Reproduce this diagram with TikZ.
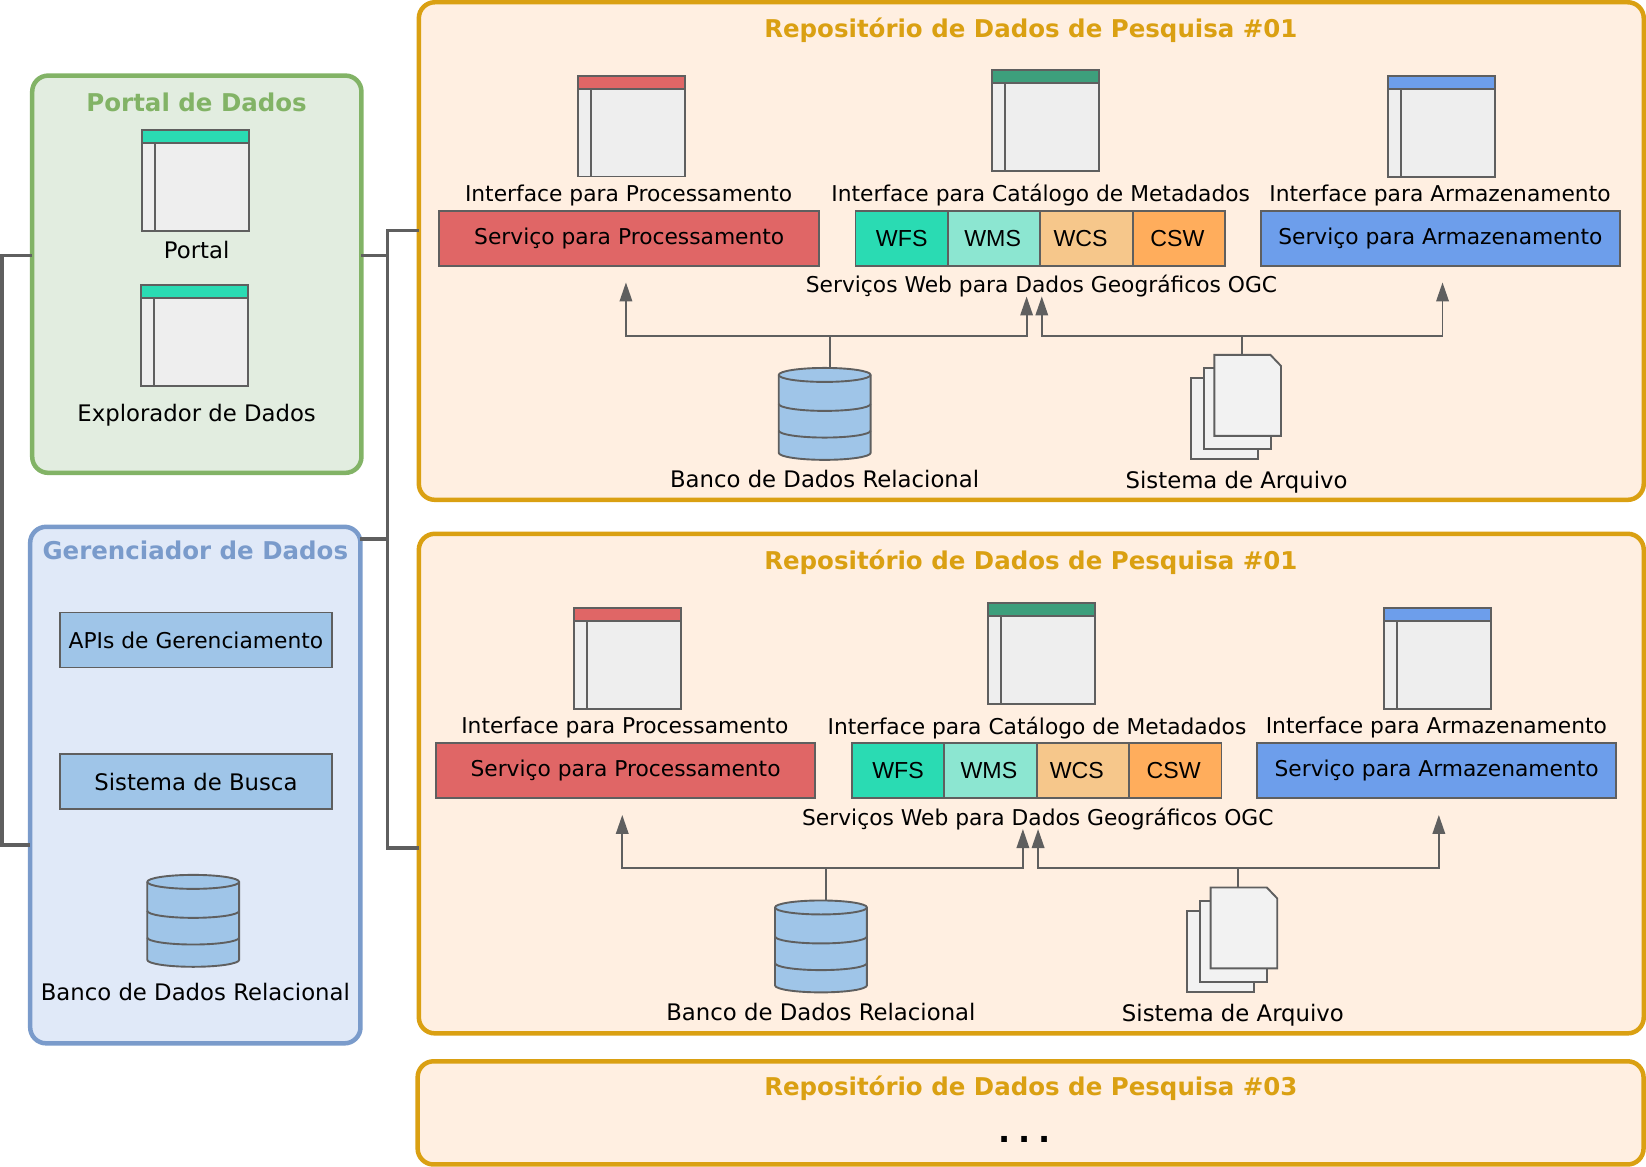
\documentclass[tikz,border=0pt]{standalone}
\usepackage{fontspec}
\setmainfont{DejaVu Sans}
\newfontfamily\wsfont{Liberation Sans}
\usetikzlibrary{shapes.geometric, arrows.meta, positioning, calc}

\definecolor{linegray}{HTML}{5F5F5F}
\definecolor{winfill}{HTML}{EEEEEE}
\definecolor{pagefill}{HTML}{F2F2F2}
\definecolor{dbfill}{HTML}{9FC5E8}
\definecolor{redfill}{HTML}{E06666}
\definecolor{tealdark}{HTML}{3D9F7C}
\definecolor{tealfill}{HTML}{2ADBB3}
\definecolor{tealsoft}{HTML}{8CE6D1}
\definecolor{sandfill}{HTML}{F6C78B}
\definecolor{orangefill}{HTML}{FFAD5C}
\definecolor{bluefill}{HTML}{6D9EEB}
\definecolor{greenbox}{HTML}{E2EDE0}
\definecolor{greenline}{HTML}{82B366}
\definecolor{bluebox}{HTML}{E0E9F8}
\definecolor{blueline}{HTML}{7A9BCB}
\definecolor{repobox}{HTML}{FFEFE1}
\definecolor{repoline}{HTML}{DAA012}

% cilindro sobre um no vazio
\newcommand{\dbdrum}[1]{
    \draw[stub, fill=dbfill] ([yshift=-7pt]#1.north west) arc[start angle=180, end angle=0, x radius=46pt, y radius=7pt]
        -- ([yshift=7pt]#1.south east) arc[start angle=0, end angle=-180, x radius=46pt, y radius=7pt] -- cycle;
    \foreach \s in {7, 36, 62.7} {
        \draw[stub] ([yshift=-\s pt]#1.north west) arc[start angle=180, end angle=360, x radius=46pt, y radius=7pt];
    }
}

\begin{document}
\begin{tikzpicture}[
    x=1pt, y=-1pt,
    every node/.style={outer sep=0pt},
    group/.style={rectangle, rounded corners=16pt, line width=4.5pt, minimum width=#1, inner sep=0pt},
    grouptitle/.style={font=\fontsize{24.5}{28}\selectfont\bfseries},
    label/.style={font=\fontsize{21.8}{26}\selectfont},
    labelwide/.style={font=\fontsize{22.8}{27}\selectfont},
    svc/.style={rectangle, draw=linegray, line width=1.9pt, inner sep=0pt, minimum height=55pt, font=\fontsize{21.8}{26}\selectfont},
    ogc/.style={svc, minimum width=92.5pt, font=\wsfont\fontsize{23.2}{28}\selectfont},
    winbody/.style={rectangle, draw=linegray, line width=1.9pt, fill=winfill, minimum width=107pt, minimum height=101pt, inner sep=0pt},
    winbar/.style={rectangle, draw=linegray, line width=1.9pt, minimum width=107pt, minimum height=13pt, inner sep=0pt},
    dbnode/.style={rectangle, minimum width=92pt, minimum height=92pt, inner sep=0pt},
    sheet/.style={rectangle, draw=linegray, line width=1.9pt, fill=pagefill, minimum width=67pt, minimum height=81pt, inner sep=0pt},
    flow/.style={draw=linegray, line width=1.9pt, -{Triangle[length=19pt,width=12.5pt]}},
    stub/.style={draw=linegray, line width=1.9pt},
    link/.style={draw=linegray, line width=3.6pt}
]

% Portal de Dados
\node[group=329.5pt, draw=greenline, fill=greenbox, minimum height=397.6pt] (portalbox) at (196.2, 273.2) {};
\node[grouptitle, text=greenline] (portaltitle) at (196, 101) {Portal de Dados};
\node[winbody] (portalwin) at (195.2, 179.8) {};
\node[winbar, fill=tealfill, below=0pt of portalwin.north] (portalbar) {};
\draw[stub] ([xshift=13pt]portalbar.south west) -- ([xshift=13pt]portalwin.south west);
\node[labelwide] (portallabel) at (196, 249) {Portal};
\node[winbody] (explowin) at (194.2, 334.3) {};
\node[winbar, fill=tealfill, below=0pt of explowin.north] (explobar) {};
\draw[stub] ([xshift=13pt]explobar.south west) -- ([xshift=13pt]explowin.south west);
\node[labelwide] (explolabel) at (196, 414) {Explorador de Dados};

% Gerenciador de Dados
\node[group=330.6pt, draw=blueline, fill=bluebox, minimum height=517pt] (gerbox) at (194.7, 784.5) {};
\node[grouptitle, text=blueline] (gertitle) at (194.7, 549.4) {Gerenciador de Dados};
\node[svc, fill=dbfill, minimum width=272pt] (apibox) at (195.3, 639.3) {APIs de Gerenciamento};
\node[svc, fill=dbfill, minimum width=272pt, font=\fontsize{22.8}{27}\selectfont] (buscabox) at (195.3, 781.2) {Sistema de Busca};
\node[dbnode] (gerdb) at (192.6, 920.4) {};
\dbdrum{gerdb}
\node[labelwide] (gerdblabel) at (194.7, 991.4) {Banco de Dados Relacional};

% Repositorios
\node[group=1226pt, draw=repoline, fill=repobox, minimum height=498pt] (repoA) at (1031.4, 250) {};
\node[grouptitle, text=repoline] (repoAtitle) at (1031, 29) {Repositório de Dados de Pesquisa \#01};
\node[group=1226pt, draw=repoline, fill=repobox, minimum height=500pt] (repoB) at (1031.4, 783) {};
\node[grouptitle, text=repoline] (repoBtitle) at (1031, 561) {Repositório de Dados de Pesquisa \#01};
\node[group=1227pt, draw=repoline, fill=repobox, minimum height=103.3pt] (repoC) at (1030.7, 1112.6) {};
\node[grouptitle, text=repoline] (repoCtitle) at (1031, 1087.7) {Repositório de Dados de Pesquisa \#03};
\node[font=\fontsize{32}{32}\selectfont\bfseries] (repoCdots) at (1024.7, 1139.5) {.\kern7.8pt.\kern7.8pt.};

\foreach \r/\dx/\dy in {A/0/0, B/-3.7/533} {
\begin{scope}[shift={(\dx,\dy)}]
    % janelas
    \node[winbody] (\r winproc) at (631.2, 124.9) {};
    \node[winbar, fill=redfill, below=0pt of \r winproc.north] (\r barproc) {};
    \draw[stub] ([xshift=13pt]\r barproc.south west) -- ([xshift=13pt]\r winproc.south west);
    \node[winbody] (\r wincat) at (1045.7, 119.6) {};
    \node[winbar, fill=tealdark, below=0pt of \r wincat.north] (\r barcat) {};
    \draw[stub] ([xshift=13pt]\r barcat.south west) -- ([xshift=13pt]\r wincat.south west);
    \node[winbody] (\r winarm) at (1441.6, 125) {};
    \node[winbar, fill=bluefill, below=0pt of \r winarm.north] (\r bararm) {};
    \draw[stub] ([xshift=13pt]\r bararm.south west) -- ([xshift=13pt]\r winarm.south west);
    \node[label] (\r lproc) at (628.3, 194) {Interface para Processamento};
    \node[label] (\r lcat) at (1040.8, 194) {Interface para Catálogo de Metadados};
    \node[label] (\r larm) at (1440.5, 194) {Interface para Armazenamento};

    % servicos
    \node[svc, fill=redfill, minimum width=380pt] (\r svcproc) at (629, 237.2) {Serviço para Processamento};
    \node[ogc, fill=tealfill] (\r wfs) at (901.7, 237.2) {WFS};
    \node[ogc, fill=tealsoft, right=0pt of \r wfs] (\r wms) {WMS\kern3pt};
    \node[ogc, fill=sandfill, right=0pt of \r wms] (\r wcs) {WCS\kern12pt};
    \node[ogc, fill=orangefill, right=0pt of \r wcs] (\r csw) {CSW\kern3pt};
    \node[svc, fill=bluefill, minimum width=359pt] (\r svcarm) at (1440.8, 237.2) {Serviço para Armazenamento};
    \node[label] (\r logc) at (1041.6, 285.5) {Serviços Web para Dados Geográficos OGC};

    % banco e arquivos
    \node[dbnode] (\r db) at (824.6, 413) {};
    \dbdrum{\r db}
    \node[labelwide] (\r ldb) at (824.5, 478.4) {Banco de Dados Relacional};
    \node[sheet] (\r back) at (1224.8, 417.8) {};
    \node[sheet] (\r mid) at (1237.6, 407.8) {};
    \draw[stub, fill=pagefill] (1214.6, 354) coordinate (\r fronta) -- ++(56.2, 0) -- ++(10.5, 11) -- (1281.3, 435) -- (1214.6, 435) -- cycle;
    \node[labelwide] (\r lfile) at (1236.9, 481.5) {Sistema de Arquivo};

    % ligacoes
    \coordinate (\r tipa) at (625.7, 281.4);
    \coordinate (\r tipb) at (1026.7, 295.5);
    \coordinate (\r tipc) at (1041.9, 295.5);
    \coordinate (\r tipd) at (1443, 281.4);
    \coordinate (\r joina) at (829.6, 334.6);
    \coordinate (\r joinb) at (1241.9, 334.6);
    \draw[stub] (\r db.north -| \r joina) -- (\r joina);
    \draw[stub] (\r joinb) -- (\r joinb |- \r fronta);
    \draw[flow] (\r joina) -| (\r tipa);
    \draw[flow] (\r joina) -| (\r tipb);
    \draw[flow] (\r joinb) -| (\r tipc);
    \draw[flow] (\r joinb) -| (\r tipd);
\end{scope}
}

% Barramentos
\coordinate (busL) at (1, 550);
\coordinate (busR) at (387, 540);
\draw[link] ([yshift=18.6pt]portalbox.west) -| (busL) |- ([yshift=-59.8pt]gerbox.west);
\draw[link] ([yshift=20.6pt]repoA.west) -| (busR) |- ([yshift=-64.3pt]repoB.west);
\draw[link] ([yshift=18.6pt]portalbox.east) -| (busR);
\draw[link] ([yshift=246.5pt]gerbox.east) -| (busR);

\useasboundingbox (0, 0) rectangle (1646, 1166);
\end{tikzpicture}
\end{document}
